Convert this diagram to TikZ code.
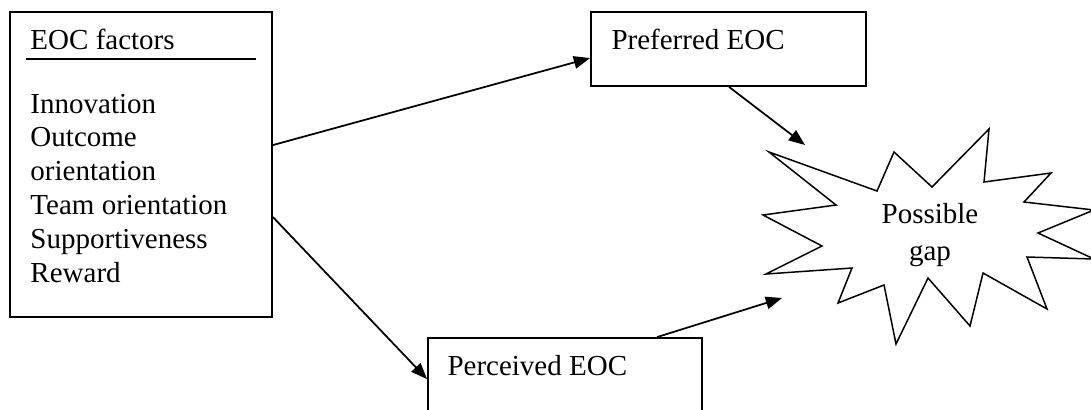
\documentclass[tikz,border=0pt]{standalone}
\usepackage{fontspec}
\setmainfont{Liberation Serif}
\usetikzlibrary{arrows.meta,calc,fit}

\tikzset{
  box/.style={draw,thick,inner sep=0pt,line width=0.75pt},
  lbl/.style={inner sep=0pt,font=\fontsize{11.6}{13.5}\selectfont},
  arr/.style={line width=0.7pt,-{Triangle[length=6.5pt,width=5pt]}}
}

\begin{document}
\begin{tikzpicture}[x=0.4pt,y=-0.4pt]
\useasboundingbox (0,0) rectangle (1091,409);

%boxes
\node[box,fit={(10,12) (272,317)}] (factors) {};
\node[box,fit={(591,12) (866,86)}] (pref) {};
\node[box,fit={(428,338) (702,450)}] (perc) {};

%factor list
\node[lbl,anchor=base west] (head) at (30,49) {EOC factors};
\draw[line width=0.6pt] (26,59) -- (256,59); %underline
\foreach \txt [count=\i] in {Innovation,Outcome,orientation,Team orientation,Supportiveness,Reward}
  \node[lbl,anchor=base west] (f\i) at (30,79.2+33.8*\i) {\txt};

\node[lbl,anchor=base west] (preftxt) at (611,49) {Preferred EOC};
\node[lbl,anchor=base west] (perctxt) at (447,375) {Perceived EOC};

%star
\draw[line width=0.6pt] (769,152) -- (877,191) -- (894,152) -- (932,187) -- (989,129)
  -- (984,182) -- (1051,173) -- (1024,202) -- (1094,210) -- (1038,233) -- (1094,259)
  -- (1027,257) -- (1047,309) -- (983,273) -- (970,326) -- (928,278) -- (896,344)
  -- (884,285) -- (838,303) -- (852,268) -- (766,274) -- (822,246) -- (763,215)
  -- (836,205) -- cycle;
\node[lbl,anchor=base] (possible) at (930,223) {Possible};
\node[lbl,anchor=base] (gap) at (930,260) {gap};

\coordinate (tipA) at (805,145);
\coordinate (tipB) at (782,298);

%arrows
\draw[arr] ($(factors.north east)+(0,134)$) -- ($(pref.north west)+(0,47)$);
\draw[arr] ($(factors.north east)+(0,206)$) -- ($(perc.north west)+(0,42)$);
\draw[arr] ($(pref.south west)+(139,0)$) -- (tipA);
\draw[arr] ($(perc.north west)+(230,0)$) -- (tipB);

\end{tikzpicture}
\end{document}
